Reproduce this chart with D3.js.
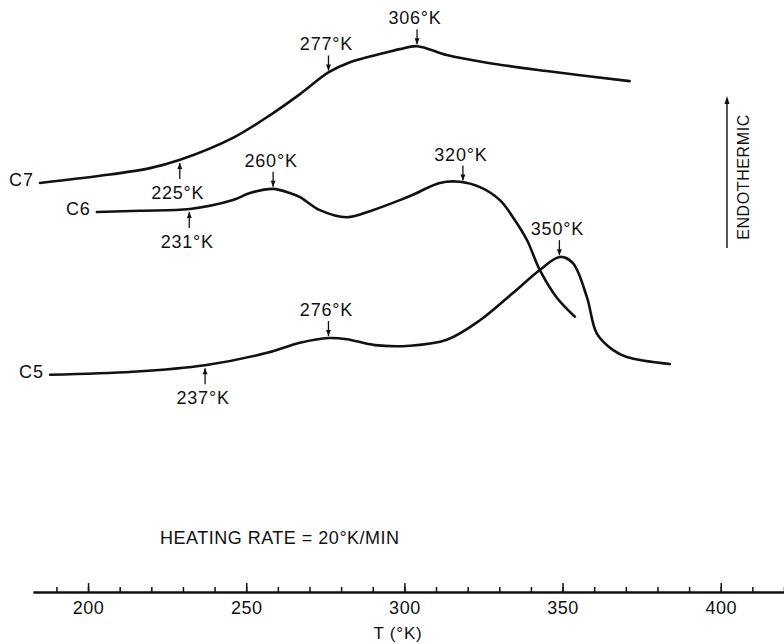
<!DOCTYPE html>
<html>
<head>
<meta charset="utf-8">
<script src="https://cdn.jsdelivr.net/npm/d3@7"></script>
<style>
  body { margin: 0; background: #fff; }
  svg { display: block; }
  text { font-family: "Liberation Sans", Arial, sans-serif; fill: #111; }
</style>
</head>
<body>
<svg id="dta"></svg>
<script>
// temperature (K) and signal (arbitrary units, endothermic up)
const c7Temp   = [184.8, 203.8, 219.6, 229.1, 245.8, 258.5, 267, 276.1, 282.8, 293.2, 298.6, 304, 313.4, 326.1, 345, 371.2];
const c7Signal = [69.1, 70.3, 71.6, 73.0, 76.7, 80.9, 84.1, 87.8, 89.5, 91.0, 91.7, 92.2, 90.7, 89.4, 88.0, 86.3];

const c6Temp   = [202.8, 216.4, 232.2, 245.8, 251.2, 258.5, 263.8, 267, 273.3, 281.8, 290, 298.6, 302.7, 311.2, 317.5, 323.9, 330.2, 334.3, 338.7, 342.8, 348.2, 353.9];
const c6Signal = [64.2, 64.4, 64.7, 66.2, 67.4, 68.1, 67.4, 66.7, 64.5, 63.3, 64.5, 66.2, 67.1, 69.1, 69.3, 68.4, 66.2, 63.3, 59.5, 54.4, 49.7, 46.5];

const c5Temp   = [188, 214.2, 237, 256.6, 267, 276.1, 281.8, 290.7, 301.7, 313.4, 323.9, 334.3, 342.8, 349.1, 353.2, 357.7, 360.8, 365.9, 370.3, 383.9];
const c5Signal = [36.7, 37.2, 38.3, 40.4, 42.1, 42.9, 42.7, 41.7, 41.6, 42.6, 45.9, 50.5, 54.4, 56.6, 55.6, 49.8, 43.7, 40.9, 39.7, 38.5];

// marked transitions
const peakLabels = ["225°K", "277°K", "306°K", "231°K", "260°K", "320°K", "237°K", "276°K", "350°K"];
const peakTemp   = [229, 276, 304, 232, 258.5, 318.5, 237, 276, 349];
const peakCurve  = ["C7", "C7", "C7", "C6", "C6", "C6", "C5", "C5", "C5"];
const peakSide   = ["below", "above", "above", "below", "above", "above", "below", "above", "above"];

const minorTicks = d3.range(190, 421, 10);
const majorTicks = [200, 250, 300, 350, 400];

var width = 784, height = 644;
let svg = d3.select('#dta').attr("width", width).attr("height", height);

let x = d3.scaleLinear([182.6, 420], [33, 784]);
let y = d3.scaleLinear([0, 100], [592, 0]);

let series = [
    {name: "C7", temp: c7Temp, sig: c7Signal},
    {name: "C6", temp: c6Temp, sig: c6Signal},
    {name: "C5", temp: c5Temp, sig: c5Signal}
];

let line = d3.line()
    .x(d => x(d[0]))
    .y(d => y(d[1]))
    .curve(d3.curveCatmullRom.alpha(0.5));

series.forEach(s => {
    let pts = s.temp.map((t, i) => [t, s.sig[i]]);
    svg.append("path")
        .attr("d", line(pts))
        .attr("fill", "none")
        .attr("stroke", "#111")
        .attr("stroke-width", 2.6)
        .attr("stroke-linecap", "round");

    svg.append("text")
        .attr("x", x(s.temp[0]) - 6)
        .attr("y", y(s.sig[0]) - 3)
        .attr("dy", "0.35em")
        .attr("text-anchor", "end")
        .attr("font-size", 18)
        .attr("letter-spacing", 1)
        .text(s.name);
});

// arrows + labels
peakLabels.forEach((lab, i) => {
    let s = series.find(d => d.name === peakCurve[i]);
    let interp = d3.scaleLinear(s.temp, s.sig);
    let px = x(peakTemp[i]);
    let yc = y(interp(peakTemp[i]));
    let g = svg.append("g");
    let tip, tail, base;
    if (peakSide[i] === "above") {
        tip = yc - 2; tail = tip - 15; base = tail - 5;
        g.append("path").attr("d", `M${px},${tip}L${px - 2.5},${tip - 6}L${px + 2.5},${tip - 6}Z`).attr("fill", "#111");
    } else {
        tip = yc + 3; tail = tip + 16; base = tail + 20;
        g.append("path").attr("d", `M${px},${tip}L${px - 2.5},${tip + 6}L${px + 2.5},${tip + 6}Z`).attr("fill", "#111");
    }
    g.append("line")
        .attr("x1", px).attr("x2", px)
        .attr("y1", tip).attr("y2", tail)
        .attr("stroke", "#111").attr("stroke-width", 1.3);
    g.append("text")
        .attr("x", px - 2)
        .attr("y", base)
        .attr("text-anchor", "middle")
        .attr("font-size", 18)
        .attr("letter-spacing", 0.8)
        .text(lab);
});

// x axis, ticks pointing up
let axisG = svg.append("g").attr("transform", "translate(0,592)");
axisG.call(d3.axisBottom(x).tickValues(minorTicks).tickSizeInner(-5).tickSizeOuter(0).tickFormat(""));
axisG.append("g").call(d3.axisBottom(x).tickValues(majorTicks).tickSizeInner(-9).tickSizeOuter(0).tickPadding(9).tickFormat(d3.format("d")));
axisG.selectAll(".domain").attr("stroke", "#111").attr("stroke-width", 2);
axisG.selectAll(".tick line").attr("stroke", "#111").attr("stroke-width", 1.5);
axisG.selectAll(".tick text")
    .attr("font-size", 18)
    .attr("font-family", '"Liberation Sans", Arial, sans-serif')
    .attr("letter-spacing", 0.5)
    .attr("fill", "#111");

svg.append("text")
    .attr("x", 398)
    .attr("y", 639)
    .attr("text-anchor", "middle")
    .attr("font-size", 17)
    .attr("letter-spacing", 0.8)
    .text("T (°K)");

svg.append("text")
    .attr("x", 160)
    .attr("y", 544)
    .attr("font-size", 18)
    .attr("letter-spacing", 0.5)
    .text("HEATING RATE = 20°K/MIN");

// endothermic direction marker
svg.append("line")
    .attr("x1", 727).attr("x2", 727)
    .attr("y1", 99).attr("y2", 248)
    .attr("stroke", "#111").attr("stroke-width", 1.4);
svg.append("path")
    .attr("d", "M727,96L724.5,104L729.5,104Z")
    .attr("fill", "#111");
svg.append("text")
    .attr("transform", "translate(749,177) rotate(-90)")
    .attr("text-anchor", "middle")
    .attr("font-size", 16)
    .attr("letter-spacing", 0.6)
    .text("ENDOTHERMIC");
</script>
</body>
</html>
